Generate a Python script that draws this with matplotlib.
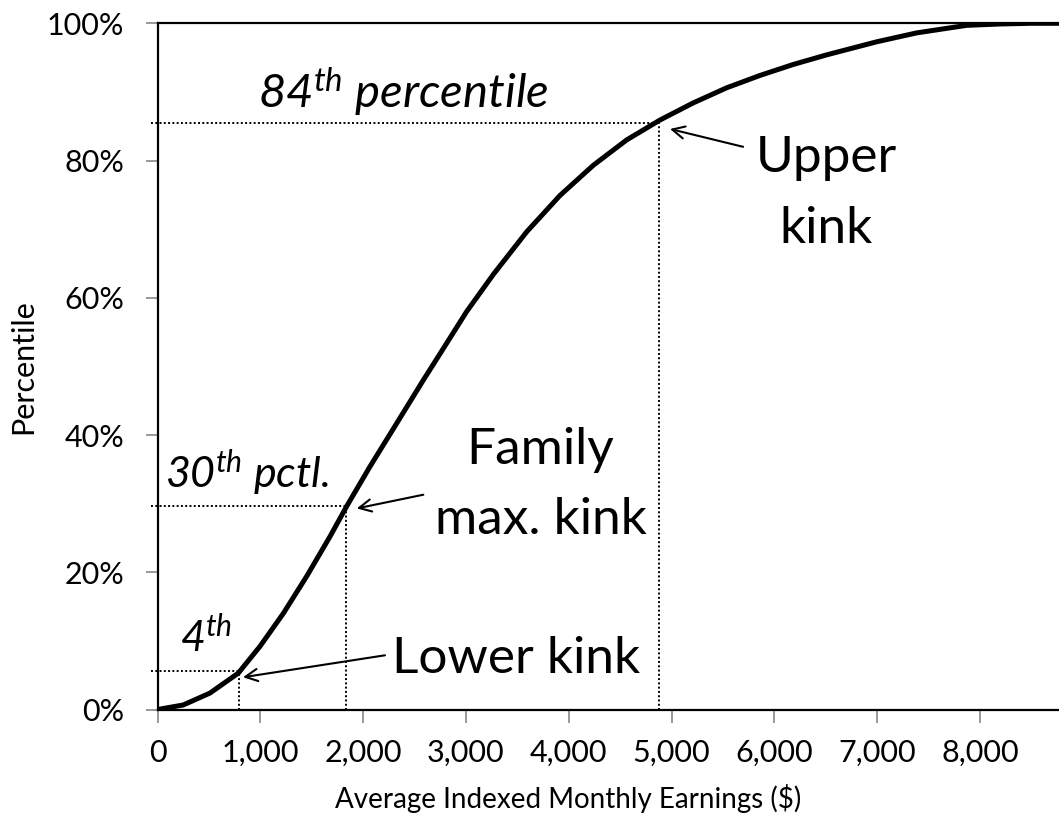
import matplotlib
matplotlib.use("Agg")
import matplotlib.pyplot as plt
from matplotlib.ticker import FuncFormatter

plt.rcParams['font.family'] = ['Lato', 'DejaVu Sans']
plt.rcParams['mathtext.fontset'] = 'custom'
plt.rcParams['mathtext.rm'] = 'Lato'
plt.rcParams['mathtext.it'] = 'Lato:italic'

# CDF of Average Indexed Monthly Earnings
aime = [0, 250, 510, 785, 996, 1223, 1450, 1677, 1839, 2066, 2326, 2585,
        2750, 3007, 3266, 3590, 3914, 4238, 4563, 4887, 5211, 5536, 5860,
        6184, 6509, 6995, 7384, 7870, 8194, 8500, 8800]
pct = [0, 0.66, 2.4, 5.3, 9.2, 14.0, 19.4, 25.2, 29.6, 35.4, 41.7, 48.0,
       51.9, 58.0, 63.4, 69.6, 74.9, 79.3, 83.0, 85.9, 88.4, 90.6, 92.4,
       94.0, 95.4, 97.3, 98.6, 99.7, 99.9, 100, 100]

kink_x = [790, 1830, 4880]
kink_y = [5.6, 29.6, 85.4]

x_ticks = [0, 1000, 2000, 3000, 4000, 5000, 6000, 7000, 8000]
y_ticks = [0, 20, 40, 60, 80, 100]

fig = plt.figure(figsize=(10.59, 8.23), dpi=100)
ax = fig.add_axes([0.1488, 0.1379, 0.8512, 0.8338])

ax.plot(aime, pct, color='black', lw=3.6, solid_capstyle='round',
        solid_joinstyle='round', zorder=3)

for kx, ky in zip(kink_x, kink_y):
    ax.plot([-60, kx], [ky, ky], color='black', lw=1.4, ls=(0, (1, 1.2)),
            clip_on=False, zorder=2)
    ax.plot([kx, kx], [0, ky], color='black', lw=1.4, ls=(0, (1, 1.2)),
            clip_on=False, zorder=2)

ax.set_xlim(0, 8769)
ax.set_ylim(0, 100)
ax.set_xticks(x_ticks)
ax.set_yticks(y_ticks)
ax.xaxis.set_major_formatter(FuncFormatter(lambda v, p: f"{int(v):,}"))
ax.yaxis.set_major_formatter(FuncFormatter(lambda v, p: f"{int(v)}%"))

for s in ['left', 'bottom', 'top']:
    ax.spines[s].set_color('black')
    ax.spines[s].set_linewidth(1.6)
ax.spines['right'].set_visible(False)

ax.tick_params(axis='both', direction='out', length=9, width=1.2,
               color='#888888', labelsize=22, labelcolor='black')
ax.tick_params(axis='y', pad=15)
ax.tick_params(axis='x', pad=12)

ax.set_xlabel('Average Indexed Monthly Earnings ($)', fontsize=20)
ax.xaxis.set_label_coords(0.455, -0.108)
ax.set_ylabel('Percentile', fontsize=22)
ax.yaxis.set_label_coords(-0.133, 0.5)

ax.text(977, 87.7, r'84$^{th}$ percentile', fontsize=34, style='italic',
        ha='left', va='baseline')
ax.text(6502, 78.4, 'Upper', fontsize=37, ha='center', va='baseline')
ax.text(6502, 68.0, 'kink', fontsize=37, ha='center', va='baseline')
ax.text(3725, 35.8, 'Family', fontsize=37, ha='center', va='baseline')
ax.text(3725, 25.6, 'max. kink', fontsize=37, ha='center', va='baseline')
ax.text(70, 32.3, r'30$^{th}$ pctl.', fontsize=31, style='italic',
        ha='left', va='baseline')
ax.text(218, 8.4, r'4$^{th}$', fontsize=31, style='italic',
        ha='left', va='baseline')
ax.text(2280, 5.3, 'Lower kink', fontsize=37, ha='left', va='baseline')

arrow = dict(arrowstyle='->', color='black', lw=1.5, mutation_scale=22,
             shrinkA=0, shrinkB=0)
ax.annotate('', xy=(831, 4.7), xytext=(2212, 7.9), arrowprops=arrow)
ax.annotate('', xy=(1937, 29.3), xytext=(2585, 31.3), arrowprops=arrow)
ax.annotate('', xy=(4985, 84.6), xytext=(5696, 82.0), arrowprops=arrow)

fig.savefig('out.png', dpi=100)
